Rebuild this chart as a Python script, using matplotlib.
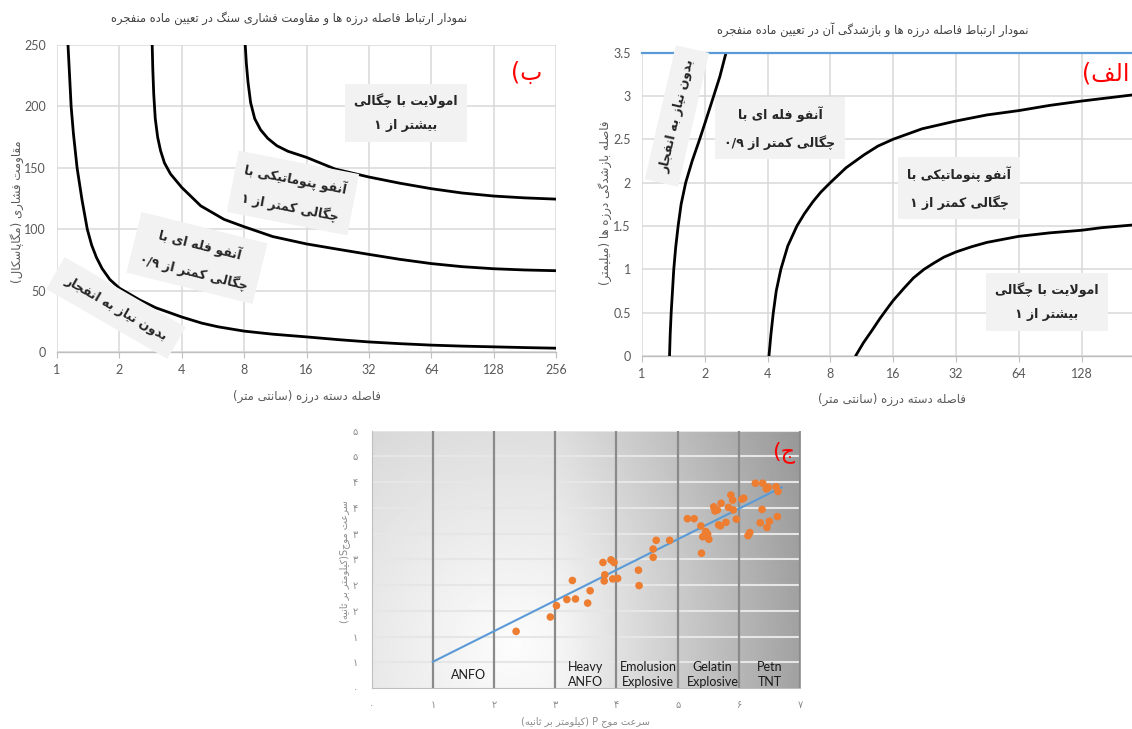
import numpy as np
import matplotlib
matplotlib.use("Agg")
import matplotlib.pyplot as plt

# ---------------- data ----------------
# chart (ب): compressive strength vs joint-set spacing
b_curve1_x = [1.13, 1.15, 1.17, 1.20, 1.25, 1.32, 1.40, 1.47, 1.55, 1.65, 1.8, 2.0, 2.5, 3.0, 3.5, 4.0, 5.0, 6.0,
              8.0, 11.0, 16.0, 23.0, 32.0, 45.0, 64.0, 90.0, 128.0, 181.0, 256.0]
b_curve1_y = [250, 225, 200, 178, 150, 124, 100, 87, 77, 68, 59, 52, 42.5, 36, 32, 28.5, 23.5, 20.5,
              17, 14.5, 12.3, 10, 8.2, 6.8, 5.6, 4.8, 4.2, 3.6, 3.1]
b_curve2_x = [2.88, 2.9, 2.93, 2.98, 3.06, 3.16, 3.3, 3.53, 4.0, 4.94, 6.4, 8.0, 11.0, 16.0, 23.0, 32.0,
              45.0, 64.0, 90.0, 128.0, 181.0, 256.0]
b_curve2_y = [250, 230, 210, 190, 175, 164, 154, 145, 134, 119, 108, 102, 94, 88, 83.5, 79.5,
              75.5, 72, 69.5, 67.8, 66.8, 66.2]
b_curve3_x = [8.1, 8.2, 8.35, 8.6, 9.0, 9.6, 10.4, 11.5, 13.0, 16.0, 22.0, 32.0, 45.0, 64.0, 90.0,
              128.0, 181.0, 256.0]
b_curve3_y = [250, 235, 220, 203, 190, 181, 174, 168, 163.5, 158.5, 149, 142.5, 137.5, 133, 129.5,
              127, 125.5, 124.5]
b_xticks = [1, 2, 4, 8, 16, 32, 64, 128, 256]
b_yticks = [0, 50, 100, 150, 200, 250]

# chart (الف): joint aperture vs joint-set spacing
a_curve1_x = [1.355, 1.365, 1.38, 1.40, 1.42, 1.45, 1.49, 1.54, 1.62, 1.74, 1.89, 2.0, 2.18, 2.36, 2.53]
a_curve1_y = [0, 0.25, 0.5, 0.75, 1.0, 1.25, 1.5, 1.75, 2.0, 2.25, 2.5, 2.68, 2.96, 3.22, 3.5]
a_curve2_x = [4.06, 4.15, 4.26, 4.4, 4.63, 5.0, 5.53, 6.0, 6.6, 7.2, 8.0, 9.5, 11.6, 13.5, 16.0, 22.0,
              32.0, 45.0, 64.0, 90.0, 128.0, 223.0]
a_curve2_y = [0, 0.25, 0.5, 0.75, 1.0, 1.27, 1.5, 1.64, 1.78, 1.89, 2.0, 2.17, 2.32, 2.42, 2.5, 2.62,
              2.71, 2.78, 2.83, 2.89, 2.94, 3.01]
a_curve3_x = [10.56, 11.5, 12.7, 13.8, 15.0, 16.0, 18.0, 20.0, 22.5, 25.0, 28.0, 32.0, 38.0, 45.0,
              64.0, 90.0, 128.0, 160.0, 223.0]
a_curve3_y = [0, 0.15, 0.3, 0.43, 0.55, 0.64, 0.78, 0.9, 1.0, 1.07, 1.14, 1.2, 1.26, 1.31,
              1.38, 1.42, 1.45, 1.48, 1.51]
a_xticks = [1, 2, 4, 8, 16, 32, 64, 128]
a_yticks = [0, 0.5, 1, 1.5, 2, 2.5, 3, 3.5]
a_ylabels = ["0", "0.5", "1", "1.5", "2", "2.5", "3", "3.5"]

# chart (ج): S-wave vs P-wave velocity
vp = [2.36, 2.92, 3.02, 3.19, 3.33, 3.28, 3.53, 3.57, 3.78, 3.81, 3.80, 3.91, 3.96, 3.94, 4.02,
      4.36, 4.37, 4.60, 4.60, 4.65, 4.87, 5.16, 5.27, 5.38, 5.39, 5.41, 5.46, 5.49, 5.51, 5.59,
      5.61, 5.65, 5.67, 5.70, 5.71, 5.79, 5.83, 5.87, 5.90, 5.91, 5.96, 6.05, 6.08, 6.15, 6.18,
      6.27, 6.39, 6.45, 6.48, 6.38, 6.35, 6.46, 6.50, 6.61, 6.64, 6.63]
vs = [1.10, 1.38, 1.60, 1.72, 1.73, 2.09, 1.65, 1.89, 2.44, 2.20, 2.08, 2.49, 2.44, 2.12, 2.13,
      2.29, 1.99, 2.70, 2.54, 2.87, 2.87, 3.29, 3.29, 3.15, 2.62, 2.94, 3.04, 2.99, 2.89, 3.52,
      3.44, 3.46, 3.17, 3.15, 3.59, 3.22, 3.51, 3.75, 3.65, 3.46, 3.28, 3.67, 3.69, 2.96, 3.02,
      3.98, 3.98, 3.87, 3.90, 3.47, 3.21, 3.12, 3.24, 3.91, 3.82, 3.33]
trend_x = [1.0, 6.7]
trend_y = [0.51, 3.90]
c_xticks = [0, 1, 2, 3, 4, 5, 6, 7]
c_xlabels = ["۰", "۱", "۲", "۳", "۴", "۵", "۶", "۷"]
c_yticks = [0, 0.5, 1, 1.5, 2, 2.5, 3, 3.5, 4, 4.5, 5]
c_ylabels = ["۰", "۱", "۱", "۲", "۲", "۳", "۳", "۴", "۴", "۵", "۵"]
c_boundaries = [1, 2, 3, 4, 5, 6, 7]
region_names = ["ANFO", "Heavy\nANFO", "Emolusion\nExplosive", "Gelatin\nExplosive", "Petn\nTNT"]

# ---------------- Persian shaping (presentation forms + visual order) ----------------
_J4 = {'ب': 0xFE8F, 'ت': 0xFE95, 'ث': 0xFE99, 'ج': 0xFE9D, 'ح': 0xFEA1, 'خ': 0xFEA5,
       'س': 0xFEB1, 'ش': 0xFEB5, 'ص': 0xFEB9, 'ض': 0xFEBD, 'ط': 0xFEC1, 'ظ': 0xFEC5,
       'ع': 0xFEC9, 'غ': 0xFECD, 'ف': 0xFED1, 'ق': 0xFED5, 'ل': 0xFEDD, 'م': 0xFEE1,
       'ن': 0xFEE5, 'ه': 0xFEE9, 'پ': 0xFB56, 'چ': 0xFB7A, 'ک': 0xFB8E, 'گ': 0xFB92,
       'ی': 0xFBFC, 'ئ': 0xFE89}
_J2 = {'آ': 0xFE81, 'ا': 0xFE8D, 'د': 0xFEA9, 'ذ': 0xFEAB, 'ر': 0xFEAD, 'ز': 0xFEAF,
       'ژ': 0xFB8A, 'و': 0xFEED}


def _shape(s):
    out = []
    i, n = 0, len(s)
    while i < n:
        c = s[i]
        prev = s[i - 1] if i > 0 else ''
        cp = prev in _J4 and (c in _J4 or c in _J2)
        if c == 'ل' and i + 1 < n and s[i + 1] in ('ا', 'آ'):
            base = 0xFEFB if s[i + 1] == 'ا' else 0xFEF5
            out.append(chr(base + (1 if cp else 0)))
            i += 2
            continue
        nxt = s[i + 1] if i + 1 < n else ''
        if c in _J4:
            cn = nxt in _J4 or nxt in _J2
            b = _J4[c]
            out.append(chr(b + 3 if (cp and cn) else b + 1 if cp else b + 2 if cn else b))
        elif c in _J2:
            out.append(chr(_J2[c] + (1 if cp else 0)))
        else:
            out.append(c)
        i += 1
    return ''.join(out)


def _ltr(ch):
    return (ch.isascii() and ch.isalnum()) or ch in '۰۱۲۳۴۵۶۷۸۹/.'


def fa(text):
    lines = []
    for line in text.split('\n'):
        sh = _shape(line)
        runs = []
        for ch in sh:
            l = _ltr(ch)
            if runs and runs[-1][0] == l:
                runs[-1][1].append(ch)
            else:
                runs.append([l, [ch]])
        vis = []
        for l, chars in reversed(runs):
            if l:
                vis.append(''.join(chars))
            else:
                vis.append(''.join({'(': ')', ')': '('}.get(c, c) for c in reversed(chars)))
        lines.append(''.join(vis))
    return '\n'.join(lines)


# ---------------- figure ----------------
W, H = 1132, 729
fig = plt.figure(figsize=(W / 100, H / 100), dpi=100)
FA = ['DejaVu Sans']
LAT = ['Lato', 'DejaVu Sans']
TXT = '#404040'
TICK = '#595959'
GRID = '#d9d9d9'


def add_ax(l, t, r, b):
    return fig.add_axes([l / W, 1 - b / H, (r - l) / W, (b - t) / H])


def ftext(x, y, s, **kw):
    return fig.text(x / W, 1 - y / H, s, **kw)


def box(x, y, s, rot=0, pad=0.75, fs=9):
    ftext(x, y, fa(s), ha='center', va='center', rotation=rot, rotation_mode='anchor',
          fontsize=fs, color='#262626', family=FA, fontweight='bold',
          multialignment='center', linespacing=2.1,
          bbox=dict(boxstyle='square,pad=%g' % pad, fc='#f2f2f2', ec='none'), zorder=5)


def style_log_axes(ax, xt, yt, ylabels=None):
    ax.set_xscale('log', base=2)
    for s in ['top', 'right', 'left']:
        ax.spines[s].set_visible(False)
    ax.spines['bottom'].set_color('#bfbfbf')
    ax.spines['bottom'].set_linewidth(1.0)
    ax.set_xticks(xt)
    ax.set_xticklabels([str(v) for v in xt])
    ax.minorticks_off()
    ax.set_yticks(yt)
    if ylabels is not None:
        ax.set_yticklabels(ylabels)
    ax.tick_params(axis='x', length=4, color='#bfbfbf', pad=5, labelsize=9, labelcolor=TICK)
    ax.tick_params(axis='y', length=0, pad=8, labelsize=9, labelcolor=TICK)
    for lab in ax.get_xticklabels() + ax.get_yticklabels():
        lab.set_family(LAT)
    ax.grid(True, color=GRID, lw=1.1)
    ax.set_axisbelow(True)


# ----- chart ب (left top) -----
axb = add_ax(57, 45, 556, 352)
style_log_axes(axb, b_xticks, b_yticks)
axb.set_xlim(1, 256)
axb.set_ylim(0, 250)
for cx, cy in [(b_curve1_x, b_curve1_y), (b_curve2_x, b_curve2_y), (b_curve3_x, b_curve3_y)]:
    axb.plot(cx, cy, color='black', lw=2.0, solid_capstyle='round', solid_joinstyle='round', zorder=3)

ftext(289, 18, fa('نمودار ارتباط فاصله درزه ها و مقاومت فشاری سنگ در تعیین ماده منفجره'),
      ha='center', va='center', fontsize=8.3, color=TXT, family=FA)
ftext(17, 212, fa('مقاومت فشاری (مگاپاسکال)'), ha='center', va='center', rotation=90,
      fontsize=8.5, color=TICK, family=FA)
ftext(307, 396, fa('فاصله دسته درزه (سانتی متر)'), ha='center', va='center',
      fontsize=8.5, color=TICK, family=FA)
ftext(527, 73, fa('ب)'), ha='center', va='center', fontsize=17, color='#ff0000', family=FA)
box(406, 113, 'امولایت با چگالی\nبیشتر از ۱')
box(293, 193, 'آنفو پنوماتیکی با\nچگالی کمتر از ۱', rot=-11)
box(197, 258, 'آنفو فله ای با\nچگالی کمتر از ۰/۹', rot=-14)
box(116, 308, 'بدون نیاز به انفجار', rot=-30, pad=0.95)

# ----- chart الف (right top) -----
axa = add_ax(642, 52.5, 1144.4, 356)
style_log_axes(axa, a_xticks, a_yticks, a_ylabels)
axa.set_xlim(1, 256)
axa.set_ylim(0, 3.5)
for cx, cy in [(a_curve1_x, a_curve1_y), (a_curve2_x, a_curve2_y), (a_curve3_x, a_curve3_y)]:
    axa.plot(cx, cy, color='black', lw=2.0, solid_capstyle='round', solid_joinstyle='round', zorder=3)
axa.axhline(3.5, color='#5B9BD5', lw=1.6, zorder=4, clip_on=False)

ftext(873, 30, fa('نمودار ارتباط فاصله درزه ها و بازشدگی آن در تعیین ماده منفجره'),
      ha='center', va='center', fontsize=8.3, color=TXT, family=FA)
ftext(605, 203, fa('فاصله بازشدگی درزه ها (میلیمتر)'), ha='center', va='center', rotation=90,
      fontsize=8.5, color=TICK, family=FA)
ftext(892, 399, fa('فاصله دسته درزه (سانتی متر)'), ha='center', va='center',
      fontsize=8.5, color=TICK, family=FA)
ftext(1129, 73, fa('الف)'), ha='right', va='center', fontsize=17, color='#ff0000', family=FA)
box(677, 116, 'بدون نیاز به انفجار', rot=77, pad=0.85)
box(780, 128, 'آنفو فله ای با\nچگالی کمتر از ۰/۹')
box(959, 188, 'آنفو پنوماتیکی با\nچگالی کمتر از ۱')
box(1047, 302, 'امولایت با چگالی\nبیشتر از ۱')

# ----- chart ج (bottom) -----
axc = add_ax(371.7, 430.7, 800, 688)
axc.set_xlim(0, 7)
axc.set_ylim(0, 5)
gx = np.linspace(0, 7, 350)
gy = np.linspace(0, 5, 250)
GX, GY = np.meshgrid(gx, gy)
dist = np.hypot((GX - 2.3) * 61.2, (GY - 0.8) * 51.5)
shade = np.clip(0.99 - 0.00055 * dist - 0.05 * np.clip(GX - 3, 0, None), 0, 1)
axc.imshow(shade, extent=[0, 7, 0, 5], origin='lower', cmap='gray', vmin=0, vmax=1,
           aspect='auto', zorder=0, interpolation='bilinear')
for yv in c_yticks[1:]:
    axc.axhline(yv, color='#e6e6e6', lw=1.5, zorder=1)
for xv in c_boundaries:
    axc.axvline(xv, color='#8a8a8a', lw=1.6, zorder=1)
axc.plot(trend_x, trend_y, color='#5B9BD5', lw=1.5, zorder=3)
axc.scatter(vp, vs, s=30, color='#ED7D31', edgecolors='none', zorder=4)
for s in ['top', 'right']:
    axc.spines[s].set_visible(False)
for s in ['left', 'bottom']:
    axc.spines[s].set_color('#bfbfbf')
axc.set_xticks(c_xticks)
axc.set_xticklabels(c_xlabels)
axc.set_yticks(c_yticks)
axc.set_yticklabels(c_ylabels)
axc.tick_params(length=0, labelsize=7, labelcolor='#8c8c8c')
axc.tick_params(axis='x', pad=9)
axc.tick_params(axis='y', pad=10)
for lab in axc.get_xticklabels() + axc.get_yticklabels():
    lab.set_family(FA)
region_x = [1.58, 3.49, 4.52, 5.57, 6.51]
for name, rx in zip(region_names, region_x):
    axc.text(rx, 0.26, name, ha='center', va='center', fontsize=9, color='#1a1a1a',
             family=LAT, linespacing=1.3, zorder=5)
ftext(585, 722, fa('سرعت موج P (کیلومتر بر ثانیه)'), ha='center', va='center',
      fontsize=7, color='#8c8c8c', family=FA)
ftext(345, 562, fa('سرعت موجS(کیلومتر بر ثانیه)'), ha='center', va='center', rotation=90,
      fontsize=7, color='#8c8c8c', family=FA)
ftext(784, 452, fa('ج)'), ha='center', va='center', fontsize=16, color='#ff0000', family=FA)

fig.savefig('out.png', dpi=100)
